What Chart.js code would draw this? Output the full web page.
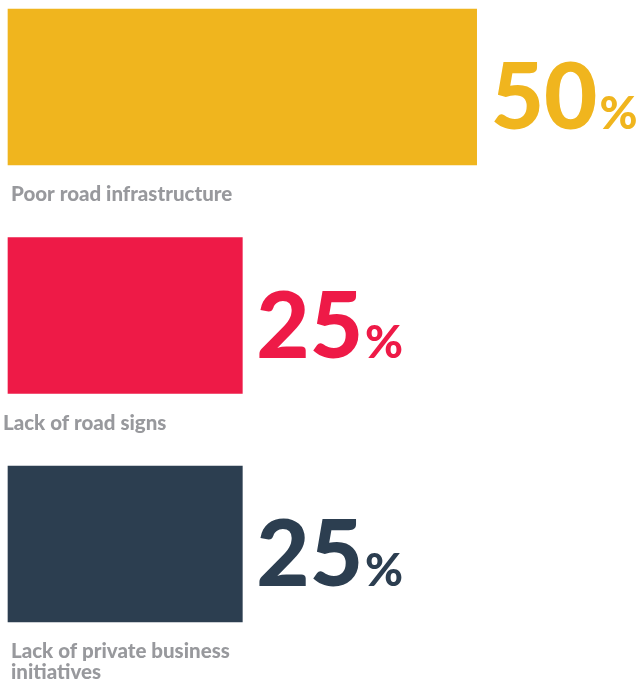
<!DOCTYPE html>
<html>
<head>
<meta charset="utf-8">
<script src="https://cdn.jsdelivr.net/npm/chart.js@4.4.1/dist/chart.umd.min.js"></script>
<style>
  html, body { margin: 0; padding: 0; background: #ffffff; }
  #wrap { position: relative; width: 636px; height: 683px; }
</style>
</head>
<body>
<div id="wrap"><canvas id="chart"></canvas></div>
<script>
// Main causes and their share of responses (%)
const categories = ['Poor road infrastructure', 'Lack of road signs', 'Lack of private business initiatives'];
const shares = [50, 25, 25];
const barColors = ['#F0B51E', '#EE1A47', '#2C3E50'];

const FONT = 'Lato, "Open Sans", sans-serif';

// Category names below each bar, and the big percentage figure beside it
const barAnnotations = {
  id: 'barAnnotations',
  afterDatasetsDraw(chart, args, opts) {
    const ctx = chart.ctx;
    const meta = chart.getDatasetMeta(0);
    const area = chart.chartArea;
    ctx.save();
    meta.data.forEach((bar, i) => {
      const value = shares[i];
      // value figure
      const num = String(value);
      ctx.fillStyle = barColors[i];
      ctx.textAlign = 'left';
      ctx.textBaseline = 'alphabetic';
      ctx.font = '900 92px ' + FONT;
      const nx = bar.x + opts.valueGap;
      const ny = bar.y + opts.valueDrop;
      ctx.fillText(num, nx, ny);
      const nw = ctx.measureText(num).width;
      ctx.font = '900 46px ' + FONT;
      ctx.fillText('%', nx + nw + 2, ny);

      // category name, wrapped
      ctx.fillStyle = opts.labelColor;
      ctx.font = '900 20.5px ' + FONT;
      const words = categories[i].split(' ');
      const lines = [];
      let line = '';
      words.forEach(w => {
        const test = line ? line + ' ' + w : w;
        if (ctx.measureText(test).width > opts.wrapWidth && line) {
          lines.push(line);
          line = w;
        } else {
          line = test;
        }
      });
      if (line) lines.push(line);
      const lx = area.left + opts.labelIndent[i];
      lines.forEach((l, k) => {
        ctx.fillText(l, lx, bar.y + opts.labelDrop + k * 21);
      });
    });
    ctx.restore();
  }
};

new Chart(document.getElementById('chart'), {
  type: 'bar',
  data: {
    labels: categories,
    datasets: [{
      data: shares,
      backgroundColor: barColors,
      borderWidth: 0,
      barThickness: 156,
      clip: false
    }]
  },
  options: {
    indexAxis: 'y',
    responsive: true,
    maintainAspectRatio: false,
    animation: false,
    layout: { padding: { left: 8, right: 0, top: 87, bottom: 139 } },
    scales: {
      x: { display: false, min: 0, max: 67 },
      y: { display: false, offset: false }
    },
    plugins: {
      legend: { display: false },
      tooltip: { enabled: false },
      barAnnotations: {
        valueGap: 14,
        valueDrop: 42,
        labelDrop: 114,
        labelColor: '#98999D',
        wrapWidth: 260,
        labelIndent: [3, -5, 3]
      }
    }
  },
  plugins: [barAnnotations]
});
</script>
</body>
</html>
